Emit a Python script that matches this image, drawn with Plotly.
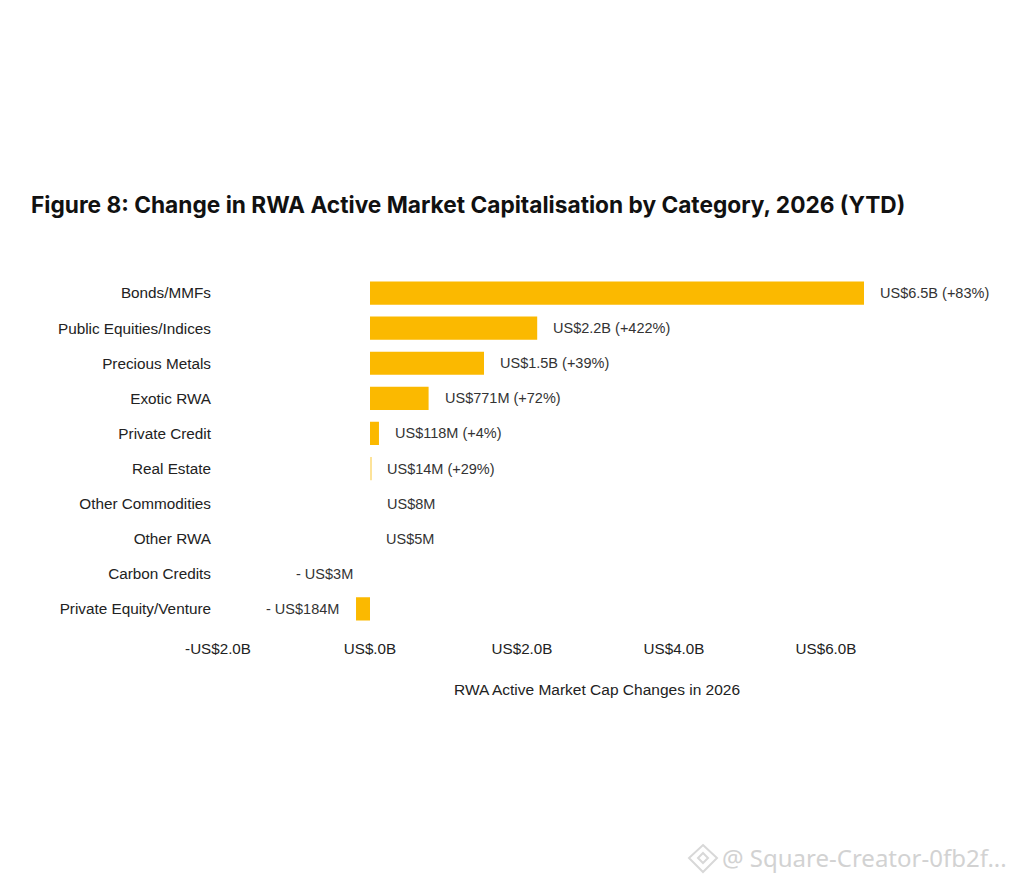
import plotly.graph_objects as go

categories = ["Bonds/MMFs", "Public Equities/Indices", "Precious Metals", "Exotic RWA", "Private Credit", "Real Estate", "Other Commodities", "Other RWA", "Carbon Credits", "Private Equity/Venture"]
values_b = [6.5, 2.2, 1.5, 0.771, 0.118, 0.014, 0.008, 0.005, -0.003, -0.184]
value_labels = ["US$6.5B (+83%)", "US$2.2B (+422%)", "US$1.5B (+39%)", "US$771M (+72%)", "US$118M (+4%)", "US$14M (+29%)", "US$8M", "US$5M", "- US$3M", "- US$184M"]
tick_vals = [-2, 0, 2, 4, 6]
tick_text = ["-US$2.0B", "US$.0B", "US$2.0B", "US$4.0B", "US$6.0B"]
FONT = "Liberation Sans"
W, H, OFF = 1014, 884, 8


def px(x):
    return (x - OFF) / W


def py(y):
    return 1 - (y - OFF) / H


bar_opacity = [0 if abs(v) < 0.01 else (0.4 if abs(v) < 0.05 else 1) for v in values_b]

fig = go.Figure(go.Bar(
    y=categories, x=values_b, orientation="h",
    marker=dict(color="#FBB900", line=dict(width=0), opacity=bar_opacity),
    width=0.66, hoverinfo="skip",
))

annotations = [
    dict(x=v, y=c, xref="x", yref="y", text=t, showarrow=False,
         xanchor="left" if v >= 0 else "right", xshift=14 if v >= 0 else -15,
         font=dict(family=FONT, size=14.5, color="#333333"))
    for c, v, t in zip(categories, values_b, value_labels)
]
annotations.append(dict(text="RWA Active Market Cap Changes in 2026", x=px(597), y=py(689), xref="paper", yref="paper",
                        xanchor="center", yanchor="middle", showarrow=False,
                        font=dict(family=FONT, size=15.5, color="#222222")))
annotations.append(dict(text="@ Square-Creator-0fb2f...", x=px(1009), y=py(857), xref="paper", yref="paper",
                        xanchor="right", yanchor="middle", showarrow=False,
                        font=dict(family="Noto Sans", size=24, color="#D2D2D2")))

fig.update_layout(
    width=W, height=H, paper_bgcolor="white", plot_bgcolor="white", showlegend=False,
    margin=dict(l=0, r=0, t=0, b=0), font=dict(family=FONT, color="#222222"),
    title=dict(text="<b>Figure 8: Change in RWA Active Market Capitalisation by Category, 2026 (YTD)</b>",
               x=px(31), xanchor="left", y=py(205), yanchor="middle",
               font=dict(family="Inter", size=22.7, color="#111111")),
    xaxis=dict(domain=[px(218), px(978)], range=[-2, 8], tickvals=tick_vals, ticktext=tick_text,
               automargin=False, showgrid=False, zeroline=False, showline=False, ticks="", ticklabelstandoff=11,
               tickfont=dict(family=FONT, size=15.2, color="#222222"), anchor="y"),
    yaxis=dict(domain=[py(626.5), py(275.5)], categoryorder="array", categoryarray=categories[::-1],
               automargin=False, showgrid=False, zeroline=False, showline=False, ticks="", ticklabelstandoff=6,
               tickfont=dict(family=FONT, size=15.3, color="#222222")),
    annotations=annotations,
    shapes=[
        dict(type="path", xref="paper", yref="paper", line=dict(color="#D8D8D8", width=2),
             path=f"M {px(703)} {py(845)} L {px(717)} {py(858)} L {px(703)} {py(872)} L {px(689)} {py(858)} Z"),
        dict(type="path", xref="paper", yref="paper", line=dict(color="#D8D8D8", width=2),
             path=f"M {px(703)} {py(853)} L {px(708)} {py(858)} L {px(703)} {py(863)} L {px(698)} {py(858)} Z"),
    ],
)
fig.write_html("out.html")
